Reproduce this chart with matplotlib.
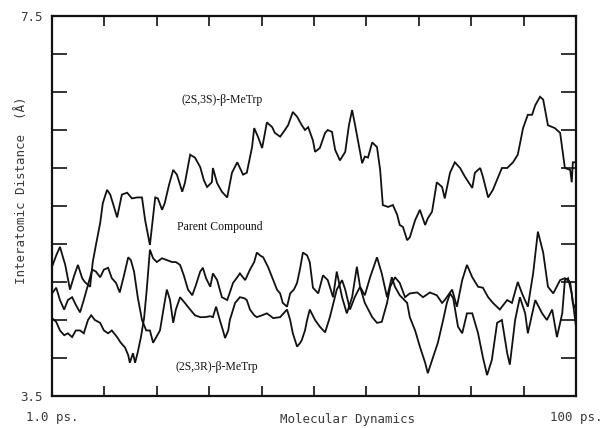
import numpy as np
import matplotlib
matplotlib.use("Agg")
import matplotlib.pyplot as plt

# (2S,3S)-beta-MeTrp trajectory: time (ps), interatomic distance (A)
t_ss = [1.0, 1.8, 2.5, 3.5, 4.4, 5.2, 5.9, 6.7, 7.2, 8.2, 8.7, 9.3, 10.1, 10.6, 11.4, 12.0,
        12.5, 13.3, 14.2, 15.2, 16.1, 17.1, 18.0, 18.6, 19.5, 20.5, 21.0, 21.8, 22.3, 23.1,
        23.9, 24.6, 25.6, 26.1, 27.1, 28.0, 29.0, 29.7, 30.3, 31.2, 31.4, 32.2, 33.1, 34.1,
        35.0, 36.0, 37.1, 37.8, 38.8, 39.2, 39.9, 40.7, 41.6, 42.6, 43.1, 44.1, 45.0, 45.6,
        46.5, 47.3, 48.2, 48.8, 49.4, 50.3, 50.7, 51.6, 52.6, 53.1, 53.9, 54.5, 55.4, 56.4,
        57.1, 57.7, 58.2, 58.8, 59.6, 60.1, 60.7, 61.5, 62.4, 63.0, 63.5, 64.5, 65.4, 66.2,
        66.7, 67.3, 68.1, 68.6, 69.6, 70.5, 71.5, 72.0, 72.8, 73.7, 74.7, 75.2, 76.2, 77.1,
        78.1, 79.0, 80.4, 80.9, 81.9, 82.4, 83.4, 84.3, 86.0, 87.0, 88.1, 89.0, 90.0, 90.9,
        91.7, 92.3, 93.2, 93.8, 94.7, 96.0, 97.0, 97.9, 98.9, 99.2, 99.4, 100.0]
d_ss = [4.86, 4.98, 5.07, 4.88, 4.62, 4.77, 4.88, 4.74, 4.70, 4.65, 4.91, 5.09, 5.32, 5.53, 5.67, 5.62,
        5.53, 5.38, 5.62, 5.64, 5.58, 5.59, 5.59, 5.35, 5.09, 5.59, 5.58, 5.46, 5.53, 5.72,
        5.88, 5.83, 5.65, 5.74, 6.04, 6.01, 5.91, 5.77, 5.70, 5.75, 5.90, 5.74, 5.65, 5.59,
        5.85, 5.96, 5.83, 5.85, 6.12, 6.32, 6.23, 6.11, 6.38, 6.33, 6.27, 6.23, 6.30, 6.35,
        6.49, 6.44, 6.35, 6.30, 6.33, 6.19, 6.07, 6.11, 6.27, 6.30, 6.28, 6.09, 5.98, 6.07,
        6.35, 6.51, 6.37, 6.19, 5.95, 6.02, 6.01, 6.17, 6.12, 5.88, 5.51, 5.49, 5.51, 5.41,
        5.30, 5.28, 5.14, 5.17, 5.35, 5.46, 5.30, 5.37, 5.44, 5.75, 5.70, 5.58, 5.85, 5.96,
        5.90, 5.81, 5.69, 5.85, 5.90, 5.81, 5.59, 5.67, 5.90, 5.90, 5.96, 6.04, 6.32, 6.46,
        6.46, 6.56, 6.65, 6.62, 6.35, 6.32, 6.27, 5.90, 5.88, 5.75, 5.96, 5.96]

# Parent compound
t_par = [1.0, 1.8, 2.5, 3.3, 4.0, 4.8, 5.5, 6.3, 7.0, 7.8, 8.6, 9.3, 10.1, 10.8, 11.6, 12.3,
         13.1, 13.8, 14.6, 15.4, 15.9, 16.5, 17.2, 18.0, 18.8, 19.5, 20.1, 20.6, 21.4, 22.2,
         22.7, 23.3, 23.9, 24.4, 25.2, 26.1, 27.1, 28.0, 29.0, 29.9, 30.9, 31.4, 32.0, 32.7,
         33.3, 33.7, 34.3, 34.6, 35.6, 36.5, 37.3, 37.8, 38.4, 39.2, 39.7, 40.7, 41.6, 42.8,
         44.1, 45.4, 46.0, 46.5, 47.3, 47.9, 48.2, 48.8, 49.2, 49.7, 50.7, 51.6, 52.6, 53.5,
         54.8, 55.8, 56.4, 57.3, 58.2, 59.2, 60.1, 61.1, 62.4, 63.3, 64.3, 65.2, 65.8, 66.7,
         68.1, 68.6, 69.6, 70.5, 71.5, 72.0, 73.0, 73.9, 74.9, 75.6, 76.2, 76.8, 77.7, 78.5,
         79.4, 80.4, 81.5, 82.4, 83.2, 84.1, 85.1, 86.0, 87.0, 87.5, 88.5, 89.4, 90.4, 90.9,
         92.3, 93.6, 94.5, 95.5, 96.4, 97.4, 97.9, 98.5, 99.2, 100.0]
d_par = [4.58, 4.64, 4.51, 4.41, 4.51, 4.54, 4.46, 4.38, 4.51, 4.67, 4.83, 4.81, 4.75, 4.83, 4.85, 4.74,
         4.69, 4.59, 4.77, 4.96, 4.93, 4.81, 4.54, 4.30, 4.19, 4.19, 4.06, 4.11, 4.19, 4.46,
         4.62, 4.51, 4.27, 4.41, 4.54, 4.48, 4.41, 4.35, 4.33, 4.33, 4.34, 4.33, 4.44, 4.30,
         4.19, 4.11, 4.19, 4.30, 4.48, 4.54, 4.53, 4.51, 4.41, 4.35, 4.33, 4.35, 4.37, 4.32,
         4.33, 4.41, 4.30, 4.16, 4.02, 4.06, 4.09, 4.19, 4.30, 4.41, 4.30, 4.23, 4.17, 4.33,
         4.62, 4.72, 4.62, 4.41, 4.54, 4.65, 4.56, 4.75, 4.96, 4.79, 4.54, 4.75, 4.65, 4.56,
         4.48, 4.33, 4.19, 4.02, 3.85, 3.74, 3.91, 4.06, 4.30, 4.48, 4.58, 4.53, 4.23, 4.16,
         4.37, 4.37, 4.16, 3.91, 3.72, 3.88, 4.27, 4.30, 3.95, 3.83, 4.30, 4.54, 4.37, 4.16,
         4.51, 4.37, 4.30, 4.41, 4.12, 4.37, 4.72, 4.74, 4.58, 4.23]

# (2S,3R)-beta-MeTrp
t_sr = [1.0, 1.8, 2.5, 3.3, 4.0, 4.8, 5.5, 6.3, 7.0, 7.8, 8.4, 9.1, 10.1, 10.8, 11.6, 12.3,
        13.3, 14.0, 14.8, 15.4, 15.7, 16.3, 16.7, 17.2, 17.8, 18.4, 18.9, 19.5, 20.1, 20.8,
        21.8, 22.7, 23.7, 24.4, 25.2, 25.9, 26.7, 27.5, 28.2, 29.0, 29.5, 30.1, 30.9, 31.4,
        32.2, 33.1, 34.1, 34.6, 35.2, 36.0, 36.5, 37.5, 38.4, 39.2, 39.7, 40.3, 40.9, 41.8,
        42.8, 43.5, 44.1, 44.6, 45.4, 46.0, 46.7, 47.3, 47.9, 48.4, 49.2, 49.7, 50.3, 51.3,
        52.2, 53.1, 54.1, 54.8, 55.8, 56.7, 57.7, 58.6, 59.2, 60.1, 61.5, 62.4, 63.3, 64.3,
        64.9, 65.8, 66.7, 67.7, 68.6, 70.0, 71.1, 72.4, 73.7, 74.7, 75.2, 76.6, 77.5, 78.5,
        79.4, 80.4, 81.5, 82.4, 83.4, 84.3, 85.6, 87.0, 87.9, 89.0, 89.8, 90.9, 91.9, 92.8,
        93.8, 94.7, 95.7, 97.0, 97.9, 98.9, 99.4, 100.0]
d_sr = [4.32, 4.28, 4.19, 4.14, 4.16, 4.12, 4.19, 4.19, 4.16, 4.30, 4.35, 4.30, 4.27, 4.19, 4.16, 4.19,
        4.12, 4.06, 4.01, 3.93, 3.85, 3.95, 3.85, 3.96, 4.12, 4.32, 4.62, 5.04, 4.95, 4.91,
        4.95, 4.93, 4.91, 4.91, 4.88, 4.77, 4.62, 4.56, 4.67, 4.81, 4.85, 4.74, 4.65, 4.79,
        4.72, 4.54, 4.51, 4.59, 4.69, 4.75, 4.79, 4.72, 4.83, 4.91, 5.01, 4.98, 4.96, 4.86,
        4.72, 4.62, 4.58, 4.48, 4.44, 4.58, 4.62, 4.69, 4.85, 5.01, 4.98, 4.91, 4.64, 4.58,
        4.77, 4.72, 4.54, 4.81, 4.54, 4.37, 4.54, 4.86, 4.65, 4.48, 4.33, 4.27, 4.28, 4.48,
        4.65, 4.75, 4.69, 4.54, 4.58, 4.59, 4.54, 4.59, 4.56, 4.48, 4.51, 4.62, 4.44, 4.72,
        4.88, 4.75, 4.65, 4.64, 4.54, 4.48, 4.41, 4.51, 4.48, 4.70, 4.58, 4.44, 4.79, 5.23,
        5.01, 4.65, 4.58, 4.72, 4.74, 4.70, 4.48, 4.41]

labels = ["(2S,3S)-\u03b2-MeTrp", "Parent Compound", "(2S,3R)-\u03b2-MeTrp"]
label_pos = [(33.1, 6.62), (32.7, 5.28), (32.2, 3.81)]

mono = "DejaVu Sans Mono"
serif = "Liberation Serif"
ink = "#111111"
grey = "#3a3a3a"

fig = plt.figure(figsize=(6.01, 4.28), dpi=100)
ax = fig.add_axes([52 / 601, 1 - 396 / 428, 524 / 601, 380 / 428])

for t, d in [(t_ss, d_ss), (t_par, d_par), (t_sr, d_sr)]:
    ax.plot(t, d, color=ink, lw=1.3, solid_joinstyle="miter")

for txt, (x, y) in zip(labels, label_pos):
    ax.text(x, y, txt, family=serif, fontsize=8.5, color=ink, ha="center", va="center")

ax.set_xlim(1, 100)
ax.set_ylim(3.5, 7.5)

yt = np.linspace(3.5, 7.5, 11)
ax.set_yticks(yt)
ax.set_yticklabels(["3.5"] + [""] * 9 + ["7.5"], family=mono, fontsize=9, color=grey)
xt = np.linspace(1, 100, 11)
ax.set_xticks(xt)
ax.set_xticklabels(["1.0 ps."] + [""] * 9 + ["100 ps."], family=mono, fontsize=9, color=grey)

ax.tick_params(axis="y", direction="in", length=11, width=1.2, right=True, pad=7, colors=ink,
               labelcolor=grey)
ax.tick_params(axis="x", direction="in", length=7, width=1.2, top=True, pad=11, colors=ink,
               labelcolor=grey)
for s in ax.spines.values():
    s.set_linewidth(1.6)
    s.set_color(ink)

fig.text(347 / 601, 1 - 419 / 428, "Molecular Dynamics", family=mono, fontsize=9,
         color=grey, ha="center", va="center")
fig.text(22 / 601, 1 - 190 / 428, "Interatomic Distance  (\u00c5)", family=mono, fontsize=9,
         color=grey, ha="center", va="center", rotation=90)

plt.savefig("out.png", dpi=100)
